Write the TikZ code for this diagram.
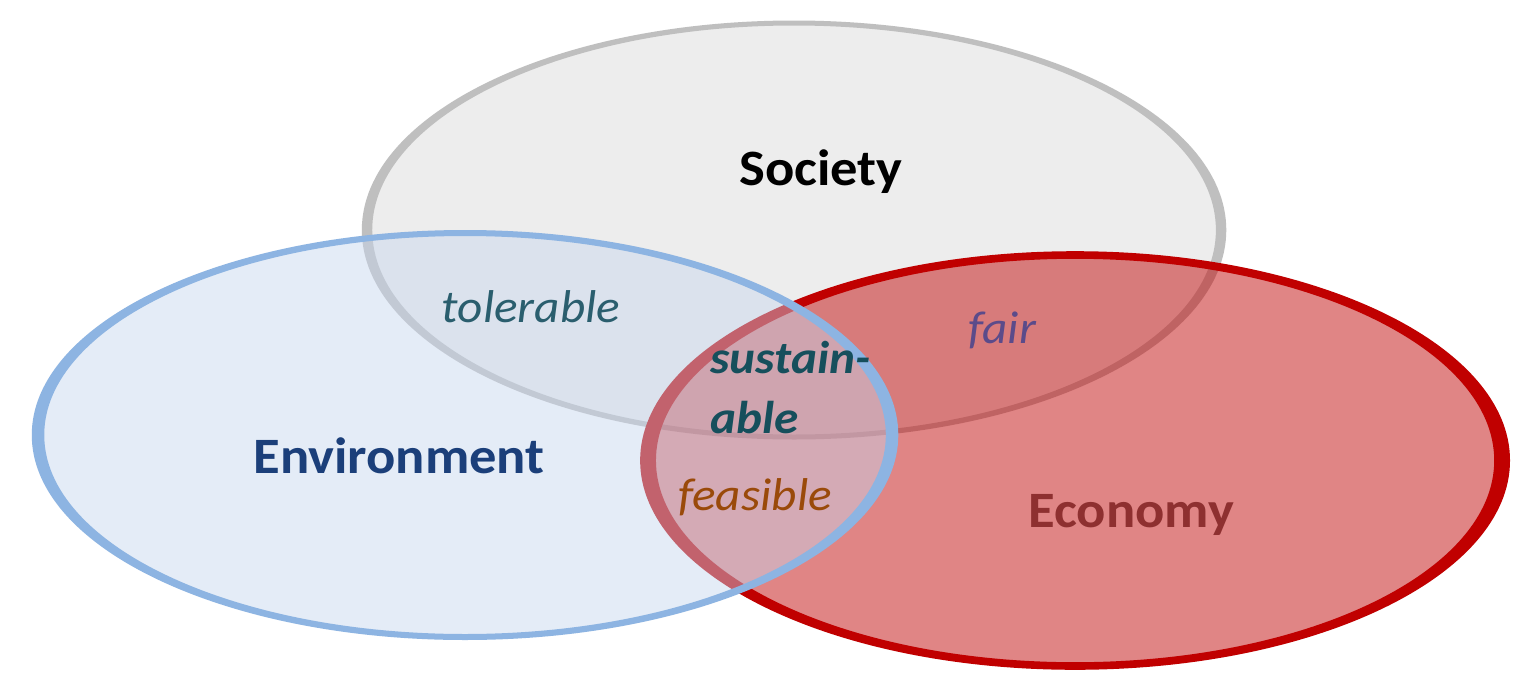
\documentclass[tikz,border=0pt]{standalone}
\usepackage{fontspec}
\setmainfont{Carlito}[FakeStretch=1.07]
\definecolor{socfill}{HTML}{EDEDED}
\definecolor{socline}{HTML}{BFBFBF}
\definecolor{envfill}{RGB}{198,214,238}
\definecolor{envline}{HTML}{8DB4E2}
\definecolor{ecoline}{HTML}{C00000}
\definecolor{envtext}{HTML}{1B3F7A}
\definecolor{ecotext}{HTML}{8E3030}
\definecolor{toltext}{HTML}{2A5E6E}
\definecolor{fairtext}{HTML}{5B4B8A}
\definecolor{susttext}{HTML}{164F5C}
\definecolor{feastext}{HTML}{9A4A0A}
\begin{document}
\begin{tikzpicture}[x=0.5pt,y=-0.5pt,
	setname/.style={inner sep=0pt,anchor=base,font=\fontsize{25.5}{30}\selectfont\bfseries},
	zone/.style={inner sep=0pt,anchor=base,font=\fontsize{23}{28}\selectfont\itshape}]
	\fill[white] (0,0) rectangle (1532,686);
	\useasboundingbox (0,0) rectangle (1532,686);
	\begin{scope}[transform canvas={xscale=2.08},x=0.2404pt]
		\draw[socline,line width=2.5pt,fill=socfill] (794,230) ellipse [x radius=427,y radius=207];
		\draw[ecoline,line width=3.8pt,fill=ecoline,fill opacity=.48] (1075,460.5) ellipse [x radius=427,y radius=205.5];
		\draw[envline,line width=3pt,fill=envfill,fill opacity=.46] (465,435) ellipse [x radius=427,y radius=202];
	\end{scope}
	\node[setname] (society) at (821,185) {Society};
	\node[setname,envtext] (environment) at (399,473) {Environment};
	\node[setname,ecotext] (economy) at (1131,527) {Economy};
	\node[zone,toltext] (tolerable) at (531,322) {tolerable};
	\node[zone,fairtext] (fair) at (1002,343) {fair};
	\node[zone,feastext] (feasible) at (755,510) {feasible};
	\node[zone,susttext,font=\fontsize{23}{28}\selectfont\bfseries\itshape,anchor=base west] (sustain) at (710,373) {sustain-};
	\node[zone,susttext,font=\fontsize{23}{28}\selectfont\bfseries\itshape,anchor=base west] (able) at ([yshift=-30pt]sustain.base west) {able};
\end{tikzpicture}
\end{document}
